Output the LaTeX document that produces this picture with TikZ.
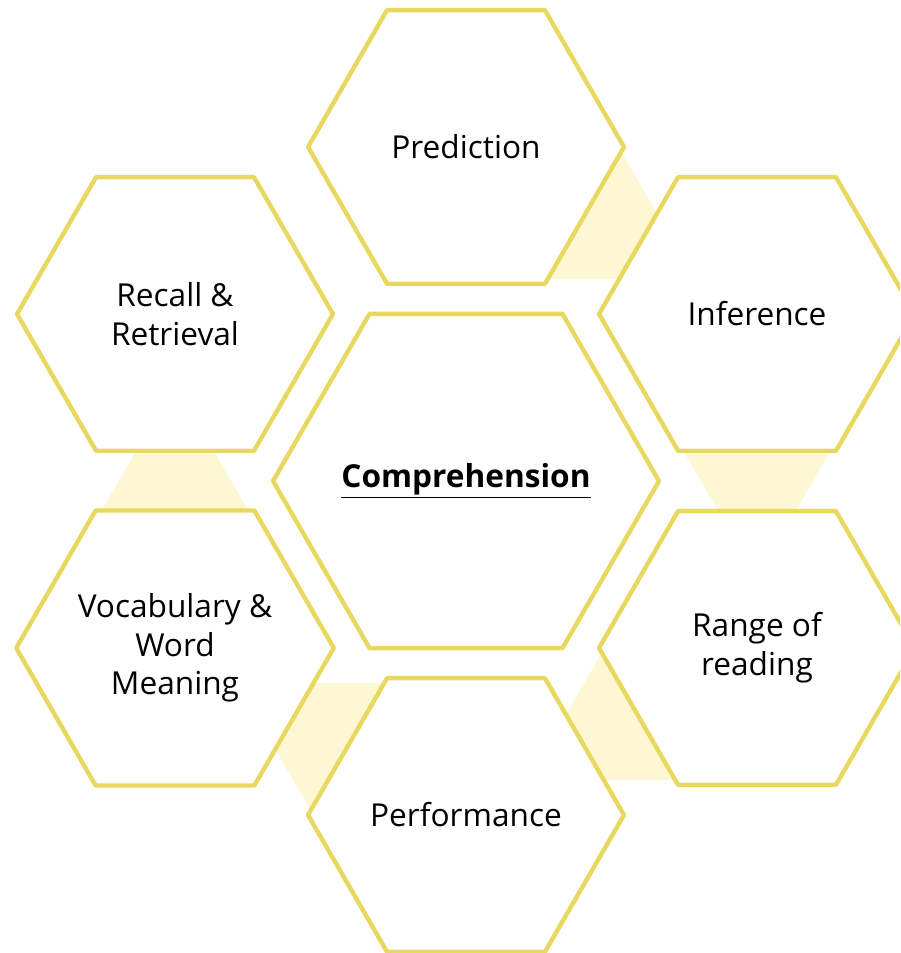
\documentclass[tikz,border=0pt]{standalone}
\usepackage{fontspec}
\setmainfont{Open Sans}
\usetikzlibrary{shapes.geometric,backgrounds}
\definecolor{hexline}{RGB}{232,216,96}
\definecolor{linkfill}{RGB}{253,247,212}
\begin{document}
\begin{tikzpicture}[x=0.02cm, y=0.02cm, line join=round,
  hexa/.style={regular polygon, regular polygon sides=6, draw=hexline, fill=white,
    line width=2.5pt, inner sep=0pt, minimum size=6.32cm, align=center,
    font=\fontsize{18}{22}\selectfont},
  link/.style={fill=linkfill, draw=none}]
\useasboundingbox (0,0) rectangle (900,953);
\clip (0,0) rectangle (900,953);
% hexagons
\node[hexa, minimum size=7.72cm] (comp) at (466,472) {\makebox[0pt]{\underline{\textbf{Comprehension}}}};
\node[hexa] (pred) at (466,806) {Prediction};
\node[hexa] (inf) at (757,639) {Inference};
\node[hexa] (rng) at (757,305) {Range of\\reading};
\node[hexa] (perf) at (466,138) {Performance};
\node[hexa] (voc) at (175,305) {Vocabulary \&\\Word\\Meaning};
\node[hexa] (rec) at (175,639) {Recall \&\\Retrieval};
% links between neighbours, wide end at the first one
\begin{pgfonlayer}{background}
\foreach \a/\r in {pred/-30, inf/-90, rng/210, perf/150, voc/90}
  \fill[link, shift={(\a.center)}, rotate=\r] (125,-80.4) -- (209,-32) -- (209,32) -- (125,80.4) -- cycle;
\end{pgfonlayer}
\end{tikzpicture}
\end{document}
